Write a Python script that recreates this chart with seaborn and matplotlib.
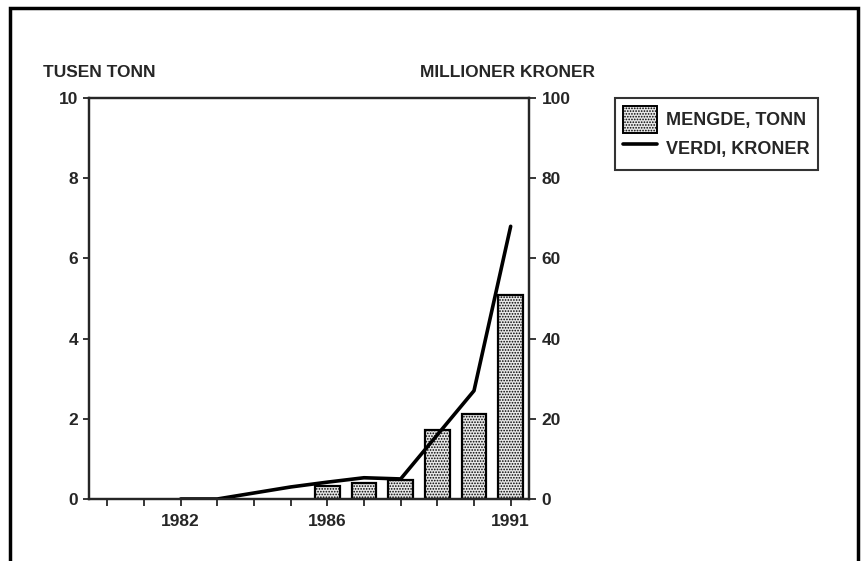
import matplotlib
matplotlib.use("Agg")
import matplotlib.pyplot as plt
import seaborn as sns
import pandas as pd
from matplotlib.patches import Patch, Rectangle
from matplotlib.lines import Line2D

# ---- data ----
all_years = list(range(1980, 1992))
bar_years = [1986, 1987, 1988, 1989, 1990, 1991]
mengde_tusen_tonn = [0.32, 0.40, 0.47, 1.73, 2.12, 5.08]
line_years = [1982, 1983, 1984, 1985, 1986, 1987, 1988, 1989, 1990, 1991]
verdi_mill_kr = [0.0, 0.0, 1.5, 3.0, 4.2, 5.3, 5.0, 16.0, 27.0, 68.0]
xtick_labels = {1982: "1982", 1986: "1986", 1991: "1991"}
left_ticks = [0, 2, 4, 6, 8, 10]
right_ticks = [0, 20, 40, 60, 80, 100]
left_title = "TUSEN TONN"
right_title = "MILLIONER KRONER"
legend_labels = ["MENGDE, TONN", "VERDI, KRONER"]

sns.set_style("ticks")
plt.rcParams["font.family"] = ["Liberation Sans", "DejaVu Sans"]
plt.rcParams["font.weight"] = "bold"
plt.rcParams["hatch.linewidth"] = 0.8
plt.rcParams["hatch.color"] = "black"

FS = 12.5
BAR_FACE = "#e8e8e8"
HATCH = "......"
W, H = 868, 561
fig = plt.figure(figsize=(W / 100, H / 100), dpi=100)
ax = fig.add_axes([89 / W, 1 - 499 / H, (529 - 89) / W, (499 - 98) / H])

bars_df = pd.DataFrame({"year": bar_years, "mengde": mengde_tusen_tonn})
sns.barplot(data=bars_df, x="year", y="mengde", native_scale=True, width=0.68,
            color=BAR_FACE, edgecolor="black", linewidth=1.6, ax=ax, zorder=2)
for p in ax.patches:
    p.set_hatch(HATCH)
    p.set_facecolor(BAR_FACE)
    p.set_edgecolor("black")

ax.set_xlim(1979.5, 1991.5)
ax.set_ylim(0, 10)
ax.set_xticks(all_years)
ax.set_xticklabels([xtick_labels.get(y, "") for y in all_years], fontsize=FS, fontweight="bold")
ax.set_yticks(left_ticks)
ax.set_yticklabels([str(t) for t in left_ticks], fontsize=FS, fontweight="bold")
ax.tick_params(axis="x", direction="out", length=5, width=1.3, pad=6)
ax.tick_params(axis="y", direction="out", length=4, width=1.3, pad=4)
ax.set_xlabel("")
ax.set_ylabel("")
for s in ax.spines.values():
    s.set_linewidth(1.6)
    s.set_visible(True)

ax2 = ax.twinx()
line_df = pd.DataFrame({"year": line_years, "verdi": verdi_mill_kr})
sns.lineplot(data=line_df, x="year", y="verdi", color="black", linewidth=2.6, ax=ax2)
ax2.set_ylim(0, 100)
ax2.set_yticks(right_ticks)
ax2.set_yticklabels([str(t) for t in right_ticks], fontsize=FS, fontweight="bold")
ax2.tick_params(axis="y", direction="out", length=5, width=1.3, pad=4)
ax2.set_ylabel("")
ax2.set_xlim(1979.5, 1991.5)
for s in ax2.spines.values():
    s.set_linewidth(1.6)

fig.text(43 / W, 1 - 72 / H, left_title, fontsize=FS, fontweight="bold", ha="left", va="center")
fig.text(595 / W, 1 - 72 / H, right_title, fontsize=FS, fontweight="bold", ha="right", va="center")

handles = [Patch(facecolor=BAR_FACE, edgecolor="black", hatch=HATCH, linewidth=1.4),
           Line2D([], [], color="black", linewidth=2.6)]
leg = fig.legend(handles, legend_labels, loc="upper left",
                 bbox_to_anchor=(615 / W, 1 - 98 / H), frameon=True, fancybox=False,
                 edgecolor="black", prop={"size": 13, "weight": "bold"},
                 handlelength=1.85, handleheight=1.9, handletextpad=0.55,
                 borderpad=0.45, labelspacing=0.1, borderaxespad=0)
leg.get_frame().set_linewidth(1.5)

fig.patches.append(Rectangle((10 / W, -0.05), (858 - 10) / W, 1.05 - 8 / H,
                             transform=fig.transFigure, fill=False,
                             edgecolor="black", linewidth=2.5))

fig.savefig("out.png", dpi=100, facecolor="white")
